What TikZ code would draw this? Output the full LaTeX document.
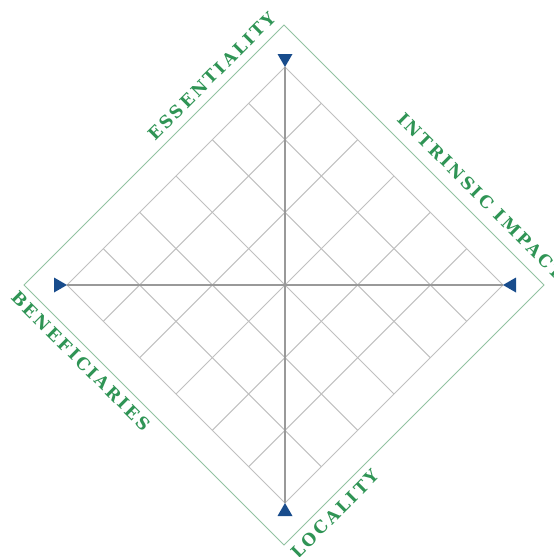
\documentclass[tikz,border=0pt]{standalone}
\usepackage{fontspec}
\setmainfont{Liberation Serif}
\newfontfamily\lblfont[LetterSpace=15]{DejaVu Serif}
\usetikzlibrary{calc}
\definecolor{gridgray}{HTML}{C0C0C0}
\definecolor{axisgray}{HTML}{999999}
\definecolor{frameg}{HTML}{92C2A2}
\definecolor{labelg}{HTML}{2F9455}
\definecolor{markblue}{HTML}{184C8C}
\tikzset{
  gridline/.style={draw=gridgray, line width=1pt},
  axisline/.style={draw=axisgray, line width=1.6pt},
  frameline/.style={draw=frameg, line width=1pt},
  marker/.style={fill=markblue, draw=none},
  lbl/.style={text=labelg, font=\lblfont\bfseries\fontsize{17}{19}\selectfont, inner sep=0pt, anchor=center}
}
\begin{document}
\begin{tikzpicture}[x=1pt,y=-1pt]
\path[use as bounding box] (0,0) rectangle (554,557);
\clip (0,0) rectangle (554,557);
% inner grid vertices
\coordinate (T) at (285,67);
\coordinate (R) at (503,285);
\coordinate (B) at (285,503);
\coordinate (L) at (67,285);
% outer frame vertices
\coordinate (OT) at (284,25);
\coordinate (OR) at (544,285);
\coordinate (OB) at (284,545);
\coordinate (OL) at (24,285);
\draw[frameline] (OT) -- (OR) -- (OB) -- (OL) -- cycle;
% grid
\foreach \k in {1,...,5}{
  \draw[gridline] ($(T)!\k/6!(L)$) -- ($(R)!\k/6!(B)$);
  \draw[gridline] ($(T)!\k/6!(R)$) -- ($(L)!\k/6!(B)$);
}
\draw[gridline] (T) -- (R) -- (B) -- (L) -- cycle;
% axes
\draw[axisline] (T) -- (B);
\draw[axisline] (L) -- (R);
% markers
\fill[marker] (T) -- ++(-7.5,-13) -- ++(15,0) -- cycle;
\fill[marker] (B) -- ++(-7.5,13) -- ++(15,0) -- cycle;
\fill[marker] (L) -- ++(-13,-7.5) -- ++(0,15) -- cycle;
\fill[marker] (R) -- ++(13,-7.5) -- ++(0,15) -- cycle;
% labels
\node[lbl, rotate=45] (ess) at (212,76) {ESSENTIALITY};
\node[lbl, rotate=-45] (intr) at (481,196) {INTRINSIC IMPACT};
\node[lbl, rotate=-45] (ben) at (81,361) {BENEFICIARIES};
\node[lbl, rotate=45] (loc) at (335,514) {LOCALITY};
\end{tikzpicture}
\end{document}
